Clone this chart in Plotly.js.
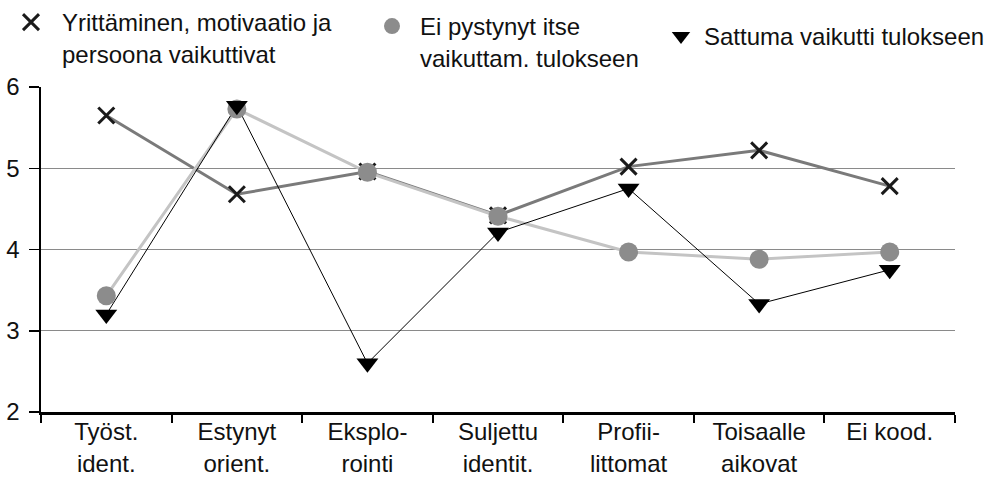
<!DOCTYPE html>
<html>
<head>
<meta charset="utf-8">
<script src="https://cdn.plot.ly/plotly-3.0.1.min.js"></script>
<style>html,body{margin:0;padding:0;background:#fff;}#chart{width:999px;height:482px;}</style>
</head>
<body>
<div id="chart"></div>
<script>
const categories = ["Työst.<br>ident.", "Estynyt<br>orient.", "Eksplo-<br>rointi", "Suljettu<br>identit.", "Profii-<br>littomat", "Toisaalle<br>aikovat", "Ei kood."];
const seriesNames = ["Yrittäminen, motivaatio ja<br>persoona vaikuttivat", "Ei pystynyt itse<br>vaikuttam. tulokseen", "Sattuma vaikutti tulokseen"];
const yrittaminen = [5.65, 4.68, 4.96, 4.42, 5.02, 5.22, 4.78];
const eiPystynyt = [3.43, 5.73, 4.95, 4.41, 3.97, 3.88, 3.97];
const sattuma = [3.2, 5.77, 2.6, 4.21, 4.75, 3.33, 3.75];
const yTicks = [2, 3, 4, 5, 6];

const FONT = "Liberation Sans, Arial, sans-serif";

const traces = [
  // lines (no legend)
  {x: categories, y: yrittaminen, type: "scatter", mode: "lines", showlegend: false, hoverinfo: "skip",
   line: {color: "#7a7a7a", width: 3}},
  {x: categories, y: eiPystynyt, type: "scatter", mode: "lines", showlegend: false, hoverinfo: "skip",
   line: {color: "#c4c4c4", width: 3}},
  {x: categories, y: sattuma, type: "scatter", mode: "lines", showlegend: false, hoverinfo: "skip",
   line: {color: "#000000", width: 1}},
  // markers (legend)
  {x: categories, y: yrittaminen, type: "scatter", mode: "markers", name: seriesNames[0], legend: "legend",
   marker: {symbol: "x-thin", size: 16, color: "#1a1a1a", line: {color: "#1a1a1a", width: 3}}},
  {x: categories, y: eiPystynyt, type: "scatter", mode: "markers", name: seriesNames[1], legend: "legend2",
   marker: {symbol: "circle", size: 19, color: "#8c8c8c", line: {width: 0}}},
  {x: categories, y: sattuma, type: "scatter", mode: "markers", name: seriesNames[2], legend: "legend3",
   marker: {symbol: "triangle-down", size: 19, color: "#000000", line: {width: 0}}}
];

const legendBase = {
  xref: "container", yref: "container", xanchor: "left", yanchor: "top",
  orientation: "h", bgcolor: "rgba(0,0,0,0)", borderwidth: 0, valign: "top",
  font: {family: FONT, size: 24, color: "#111"}
};

const layout = {
  width: 999, height: 482,
  margin: {l: 41, r: 44, t: 87, b: 70},
  paper_bgcolor: "#ffffff", plot_bgcolor: "#ffffff",
  font: {family: FONT, size: 24, color: "#111"},
  showlegend: true,
  legend: Object.assign({}, legendBase, {x: 0, y: 1, itemwidth: 52}),
  legend2: Object.assign({}, legendBase, {x: 364 / 999, y: 1 - 4 / 482, itemwidth: 46}),
  legend3: Object.assign({}, legendBase, {x: 658 / 999, y: 1 - 14 / 482, itemwidth: 36}),
  xaxis: {
    type: "category", range: [-0.5, 6.5], tickson: "boundaries",
    ticks: "outside", ticklen: 8, tickwidth: 2, tickcolor: "#000",
    showline: true, linecolor: "#000", linewidth: 2.5,
    showgrid: false, zeroline: false, fixedrange: true, ticklabelstandoff: -3,
    tickfont: {family: FONT, size: 24, color: "#111"}
  },
  yaxis: {
    range: [2, 6], tickvals: yTicks, ticktext: yTicks.map(String),
    ticks: "outside", ticklen: 10, tickwidth: 1.5, tickcolor: "#000",
    showline: true, linecolor: "#000", linewidth: 2.5,
    showgrid: true, gridcolor: "#8a8a8a", gridwidth: 1,
    zeroline: false, fixedrange: true, ticklabelstandoff: 4,
    tickfont: {family: FONT, size: 24, color: "#111"}
  }
};

Plotly.newPlot("chart", traces, layout, {staticPlot: true, displayModeBar: false});
</script>
</body>
</html>
